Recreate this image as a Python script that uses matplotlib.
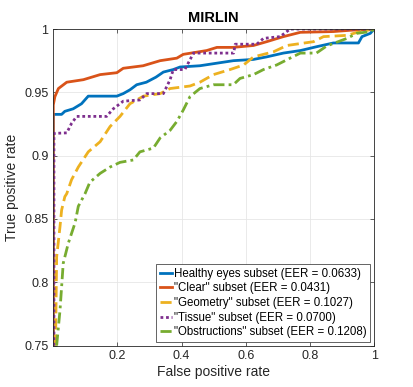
import matplotlib.pyplot as plt

plt.rcParams['font.family'] = ['Liberation Sans', 'DejaVu Sans']

# ROC curves (false positive rate, true positive rate)
healthy_fpr = [0.0, 0.0, 0.026, 0.036, 0.062, 0.088, 0.109, 0.198, 0.218, 0.239, 0.26, 0.29,
               0.32, 0.343, 0.374, 0.395, 0.457, 0.509, 0.561, 0.624, 0.665, 0.717, 0.77,
               0.82, 0.873, 0.951, 0.962, 0.988, 1.0]
healthy_tpr = [0.75, 0.9326, 0.9326, 0.935, 0.937, 0.941, 0.947, 0.947, 0.949, 0.952, 0.956,
               0.958, 0.962, 0.966, 0.968, 0.970, 0.971, 0.973, 0.975, 0.976, 0.978, 0.981,
               0.983, 0.986, 0.989, 0.989, 0.994, 0.9966, 1.0]

clear_fpr = [0.0, 0.0, 0.005, 0.016, 0.042, 0.094, 0.146, 0.198, 0.218, 0.28, 0.333, 0.385,
             0.405, 0.478, 0.51, 0.56, 0.624, 0.665, 0.717, 0.77, 0.873, 0.925, 1.0]
clear_tpr = [0.75, 0.940, 0.9466, 0.953, 0.958, 0.960, 0.964, 0.9655, 0.969, 0.971, 0.975,
             0.977, 0.980, 0.983, 0.9855, 0.9855, 0.987, 0.990, 0.994, 0.9974, 0.998, 0.999, 1.0]

geometry_fpr = [0.007, 0.0105, 0.021, 0.026, 0.036, 0.042, 0.057, 0.078, 0.109, 0.146, 0.177,
                0.208, 0.239, 0.281, 0.333, 0.364, 0.426, 0.457, 0.499, 0.551, 0.593, 0.624,
                0.686, 0.728, 0.811, 0.842, 0.915, 0.956, 1.0]
geometry_tpr = [0.75, 0.820, 0.844, 0.857, 0.8676, 0.870, 0.881, 0.891, 0.903, 0.911, 0.923,
                0.931, 0.941, 0.947, 0.949, 0.953, 0.955, 0.958, 0.964, 0.968, 0.9716, 0.978,
                0.982, 0.987, 0.990, 0.994, 0.995, 0.998, 1.0]

tissue_fpr = [0.002, 0.002, 0.005, 0.042, 0.057, 0.073, 0.166, 0.187, 0.218, 0.27, 0.291, 0.343,
              0.364, 0.374, 0.41, 0.437, 0.562, 0.567, 0.634, 0.655, 0.707, 0.738, 1.0]
tissue_tpr = [0.75, 0.9176, 0.9176, 0.918, 0.9255, 0.931, 0.931, 0.937, 0.943, 0.944, 0.949,
              0.949, 0.960, 0.968, 0.968, 0.981, 0.981, 0.988, 0.988, 0.9926, 0.994, 1.0, 1.0]

obstr_fpr = [0.0105, 0.021, 0.031, 0.047, 0.068, 0.078, 0.099, 0.114, 0.146, 0.177, 0.208,
             0.2495, 0.27, 0.312, 0.333, 0.364, 0.385, 0.405, 0.426, 0.457, 0.499, 0.561,
             0.582, 0.624, 0.655, 0.696, 0.738, 0.77, 0.82, 0.852, 0.915, 0.946, 0.988, 1.0]
obstr_tpr = [0.75, 0.778, 0.815, 0.831, 0.847, 0.860, 0.870, 0.879, 0.886, 0.891, 0.8947,
             0.8966, 0.903, 0.906, 0.914, 0.920, 0.927, 0.936, 0.9466, 0.953, 0.956, 0.956,
             0.961, 0.964, 0.968, 0.9716, 0.977, 0.981, 0.981, 0.9866, 0.9926, 0.9966, 0.998, 1.0]

labels = ['Healthy eyes subset (EER = 0.0633)',
          '"Clear" subset (EER = 0.0431)',
          '"Geometry" subset (EER = 0.1027)',
          '"Tissue" subset (EER = 0.0700)',
          '"Obstructions" subset (EER = 0.1208)']

fig = plt.figure(figsize=(4.13, 3.87), dpi=100)
ax = fig.add_axes([0.129, 0.107, 0.777, 0.818])

ax.plot(healthy_fpr, healthy_tpr, color='#0072BD', lw=2, label=labels[0])
ax.plot(clear_fpr, clear_tpr, color='#D95319', lw=2, label=labels[1])
ax.plot(geometry_fpr, geometry_tpr, color='#EDB120', lw=2, ls=(0, (4, 1.8)), label=labels[2])
ax.plot(tissue_fpr, tissue_tpr, color='#7E2F8E', lw=2, ls=(0, (1, 1)), label=labels[3])
ax.plot(obstr_fpr, obstr_tpr, color='#77AC30', lw=2, ls=(0, (4, 1.5, 1, 1.5)), label=labels[4])

ax.set_xlim(0, 1)
ax.set_ylim(0.75, 1)
ax.set_xticks([0.2, 0.4, 0.6, 0.8, 1.0])
ax.set_xticklabels(['0.2', '0.4', '0.6', '0.8', '1'])
ax.set_yticks([0.75, 0.8, 0.85, 0.9, 0.95, 1.0])
ax.set_yticklabels(['0.75', '0.8', '0.85', '0.9', '0.95', '1'])
ax.tick_params(direction='in', length=3, width=0.5, colors='#262626', labelsize=9,
               top=True, right=True)
for s in ax.spines.values():
    s.set_color('#262626')
    s.set_linewidth(0.6)
ax.grid(True, color='#e6e6e6', lw=0.6)
ax.set_axisbelow(True)

ax.set_xlabel('False positive rate', fontsize=10, color='#262626', labelpad=2)
ax.set_ylabel('True positive rate', fontsize=10, color='#262626', labelpad=4)
ax.set_title('MIRLIN', fontsize=10.5, fontweight='bold', pad=5)

leg = ax.legend(loc='lower right', fontsize=8.3, handlelength=1.1, handletextpad=0.15,
                borderpad=0.3, labelspacing=0.22, borderaxespad=0.35, fancybox=False,
                framealpha=1)
leg.get_frame().set_edgecolor('#262626')
leg.get_frame().set_linewidth(0.5)

fig.savefig('out.png', dpi=100)
